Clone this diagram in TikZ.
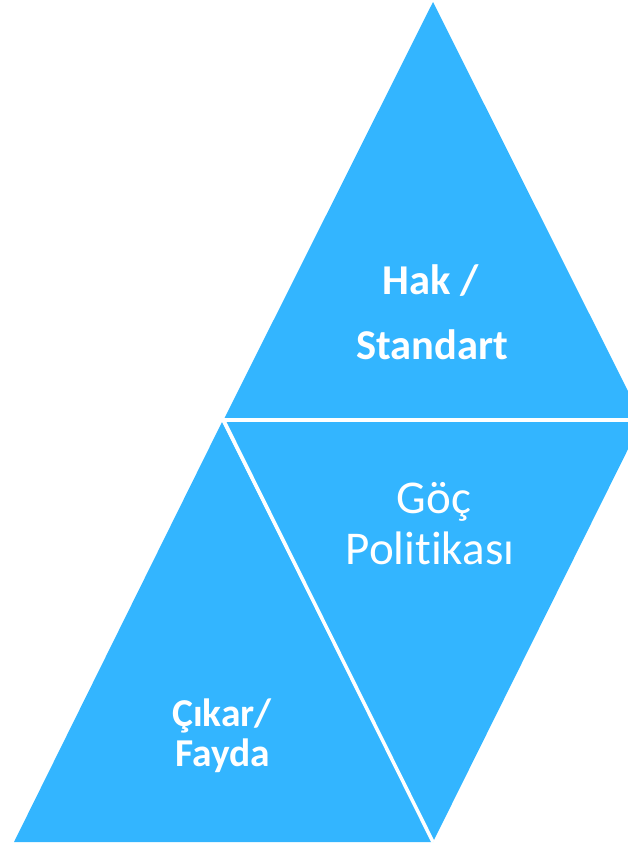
\documentclass[tikz,border=0pt]{standalone}
\usepackage{fontspec}
\setmainfont{Carlito}[Ligatures={NoCommon,NoRare,NoDiscretionary}]
\definecolor{tri}{HTML}{33B5FF}
\begin{document}
\begin{tikzpicture}[x=1pt,y=-1pt,
  boldlbl/.style={text=white,font=\fontsize{42.5}{50}\selectfont\bfseries,anchor=base,inner sep=0pt},
  reglbl/.style={text=white,font=\fontsize{47}{56}\selectfont,anchor=base,inner sep=0pt}]
\useasboundingbox (0,0) rectangle (628,844);
\begin{scope}
\clip (0,0) rectangle (628,844);
\fill[tri] (433,2) -- (223.5,420) -- (642.5,420) -- cycle;
\fill[tri] (433,842) -- (223.5,420) -- (642.5,420) -- cycle;
\fill[tri] (222,422) -- (14,842) -- (432,842) -- cycle;
\draw[white,line width=3.5pt] (0,420) -- (640,420);
\draw[white,line width=3.5pt] (223.5,420) -- (433,842);
\end{scope}
\node[boldlbl] (hak) at (431,294) {Hak /};
\node[boldlbl] (std) at (432,359) {Standart};
\node[reglbl] (goc) at (434,513) {Göç};
\node[reglbl] (pol) at (430,564) {Politikası};
\node[boldlbl,font=\fontsize{39.5}{46}\selectfont\bfseries] (cik) at (222,726) {Çıkar/};
\node[boldlbl,font=\fontsize{39.5}{46}\selectfont\bfseries] (fay) at (223,766) {Fayda};
\end{tikzpicture}
\end{document}
